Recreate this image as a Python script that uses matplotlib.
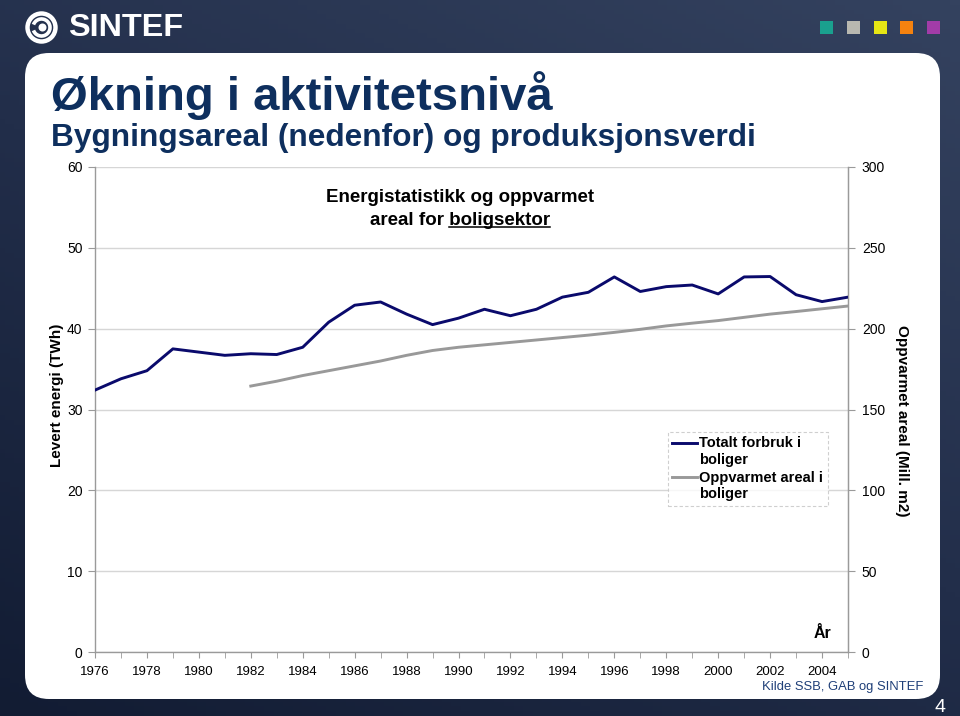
import numpy as np
import matplotlib
matplotlib.use('Agg')
import matplotlib.pyplot as plt
from matplotlib.patches import FancyBboxPatch, Rectangle, Circle, Arc
from matplotlib.colors import LinearSegmentedColormap
from matplotlib.ticker import MultipleLocator
from matplotlib.legend_handler import HandlerLine2D
from matplotlib.lines import Line2D

# ---------------- data ----------------
years = list(range(1976, 2006))
energy_twh = [32.4, 33.8, 34.8, 37.5, 37.1, 36.7, 36.9, 36.8, 37.7, 40.8,
              42.9, 43.3, 41.8, 40.5, 41.3, 42.4, 41.6, 42.4, 43.9, 44.5,
              46.4, 44.6, 45.2, 45.4, 44.3, 46.4, 46.45, 44.2, 43.35, 43.9]
area_years = list(range(1982, 2006))
area_mill_m2 = [164.5, 167.5, 171, 174, 177, 180, 183.5, 186.5, 188.5, 190,
                191.5, 193, 194.5, 196, 197.7, 199.6, 201.7, 203.4, 205, 207,
                209, 210.6, 212.3, 214]
left_ticks = [0, 10, 20, 30, 40, 50, 60]
right_ticks = [0, 50, 100, 150, 200, 250, 300]
xtick_years = list(range(1976, 2005, 2))
series_labels = ['Totalt forbruk i\nboliger', 'Oppvarmet areal i\nboliger']
square_colors = ['#1aa08e', '#b8b8b0', '#e6e614', '#f5820f', '#a23ca8']

SANS = 'Liberation Sans'
plt.rcParams['font.family'] = [SANS, 'DejaVu Sans']

W, H = 960, 716
fig = plt.figure(figsize=(W / 100, H / 100), dpi=100)
fig.canvas.draw()
rend = fig.canvas.get_renderer()

def fit_text(axis, x, y, s, target_w, base_size, **kw):
    t = axis.text(x, y, s, fontsize=base_size, **kw)
    w = t.get_window_extent(rend).width
    t.set_fontsize(base_size * target_w / w)
    return t

# ---------------- slide background ----------------
bg = fig.add_axes([0, 0, 1, 1])
bg.set_xlim(0, W)
bg.set_ylim(H, 0)
bg.axis('off')
cmap = LinearSegmentedColormap.from_list('bg', ['#34425f', '#222e4a', '#121c33'])
gx, gy = np.meshgrid(np.linspace(0, 1, 200), np.linspace(0, 1, 150))
grad = 0.6 * gy + 0.4 * (1 - gx)
bg.imshow(grad, extent=[0, W, H, 0], cmap=cmap, aspect='auto', zorder=0)

r = 24
px0, py0, px1, py1 = 25, 53, 940, 699
bg.add_patch(FancyBboxPatch((px0 + r, py0 + r), (px1 - px0) - 2 * r, (py1 - py0) - 2 * r,
                            boxstyle=f"round,pad={r}", fc='white', ec='none', zorder=1))

# logo
bg.add_patch(Circle((41.5, 27.5), 14, fc='none', ec='white', lw=3.2, zorder=2))
bg.add_patch(Arc((41.5, 27.5), 17, 17, theta1=200, theta2=520, ec='white', lw=2.6, zorder=2))
bg.add_patch(Circle((42.5, 27.5), 4, fc='white', ec='none', zorder=2))
fit_text(bg, 68, 27.5, 'SINTEF', 115, 20, color='white', fontweight='heavy',
         family=SANS, ha='left', va='center', zorder=2)
for i, c in enumerate(square_colors):
    bg.add_patch(Rectangle((820 + i * 26.75, 21), 13, 13, fc=c, ec='none', zorder=2))
bg.text(940, 707, '4', color='white', fontsize=14, ha='center', va='center', zorder=2)

# titles
navy = '#0e2f5e'
fit_text(bg, 51, 110, 'Økning i aktivitetsnivå', 502, 34, color=navy, fontweight='bold',
         family=SANS, ha='left', va='baseline', zorder=2)
fit_text(bg, 51, 146, 'Bygningsareal (nedenfor) og produksjonsverdi', 704, 22, color=navy,
         fontweight='bold', family=SANS, ha='left', va='baseline', zorder=2)

# ---------------- chart ----------------
L, R, T, B = 95, 848, 167, 652
ax = fig.add_axes([L / W, 1 - B / H, (R - L) / W, (B - T) / H])
ax.set_facecolor('white')
ax.set_xlim(1976, 2005)
ax.set_ylim(0, 60)
ax.set_yticks(left_ticks)
ax.set_xticks(xtick_years)
ax.xaxis.set_minor_locator(MultipleLocator(1))
ax.grid(axis='y', color='#d6d6d6', lw=1)
ax.set_axisbelow(True)
ax.spines['top'].set_visible(False)
for s in ['left', 'bottom', 'right']:
    ax.spines[s].set_color('#9a9a9a')
    ax.spines[s].set_linewidth(1)
ax.tick_params(axis='y', length=5, color='#9a9a9a', labelsize=10, pad=4)
ax.tick_params(axis='x', which='both', length=4, color='#9a9a9a', labelsize=9.5, pad=6)

l1, = ax.plot(years, energy_twh, color='#0a0a6c', lw=2.1, solid_joinstyle='round', zorder=3)

ax2 = ax.twinx()
ax2.set_ylim(0, 300)
ax2.set_yticks(right_ticks)
ax2.spines['top'].set_visible(False)
ax2.spines['right'].set_color('#9a9a9a')
ax2.spines['left'].set_visible(False)
ax2.spines['bottom'].set_visible(False)
ax2.tick_params(axis='y', length=5, color='#9a9a9a', labelsize=10, pad=5)
l2, = ax2.plot(area_years, area_mill_m2, color='#999999', lw=2.1, zorder=3)

# axis labels
fig.text(57 / W, 1 - 395 / H, 'Levert energi (TWh)', rotation=90, fontsize=11,
         fontweight='bold', ha='center', va='center')
fig.text(902 / W, 1 - 421 / H, 'Oppvarmet areal (Mill. m2)', rotation=-90, fontsize=11,
         fontweight='bold', ha='center', va='center')

# chart title with underline
cx = 460 / W
fig.text(cx, 1 - 197 / H, 'Energistatistikk og oppvarmet', fontsize=13.5,
         fontweight='bold', ha='center', va='center')
t2 = fig.text(cx, 1 - 220 / H, 'areal for boligsektor', fontsize=13.5,
              fontweight='bold', ha='center', va='center')
bb = t2.get_window_extent(rend)
tmp = fig.text(0, 0, 'boligsektor', fontsize=13.5, fontweight='bold')
wb = tmp.get_window_extent(rend).width
tmp.remove()
uy = bb.y0 + 2
fig.add_artist(plt.Line2D([(bb.x1 - wb) / W, bb.x1 / W], [uy / H, uy / H],
                          color='black', lw=1.1, transform=fig.transFigure))

# legend (handle aligned with first text line)
class FirstLineHandler(HandlerLine2D):
    def create_artists(self, legend, orig_handle, xdescent, ydescent, width, height,
                       fontsize, trans):
        arts = super().create_artists(legend, orig_handle, xdescent, ydescent, width,
                                      height, fontsize, trans)
        for a in arts:
            if isinstance(a, Line2D):
                a.set_ydata(np.asarray(a.get_ydata()) + 0.62 * fontsize)
        return arts

leg = ax.legend([l1, l2], series_labels, loc='upper left',
                bbox_to_anchor=(668 / W, 1 - 432 / H), bbox_transform=fig.transFigure,
                prop={'weight': 'bold', 'size': 10.5, 'family': SANS},
                frameon=True, fancybox=False, handlelength=1.7, handletextpad=0.15,
                labelspacing=0.3, borderpad=0.3, borderaxespad=0,
                handler_map={Line2D: FirstLineHandler()})
fr = leg.get_frame()
fr.set_linestyle((0, (3, 2)))
fr.set_edgecolor('#c4c4c4')
fr.set_linewidth(0.8)
for t in leg.get_texts():
    t.set_linespacing(1.2)

fig.text(823 / W, 1 - 633 / H, 'År', fontsize=11.5, fontweight='bold', ha='center', va='center')
tk = fig.text(923 / W, 1 - 687 / H, 'Kilde SSB, GAB og SINTEF', fontsize=10, color='#1f3f78',
              family=SANS, ha='right', va='center')
wk = tk.get_window_extent(rend).width
tk.set_fontsize(10 * 162 / wk)

fig.savefig('out.png', dpi=100)
